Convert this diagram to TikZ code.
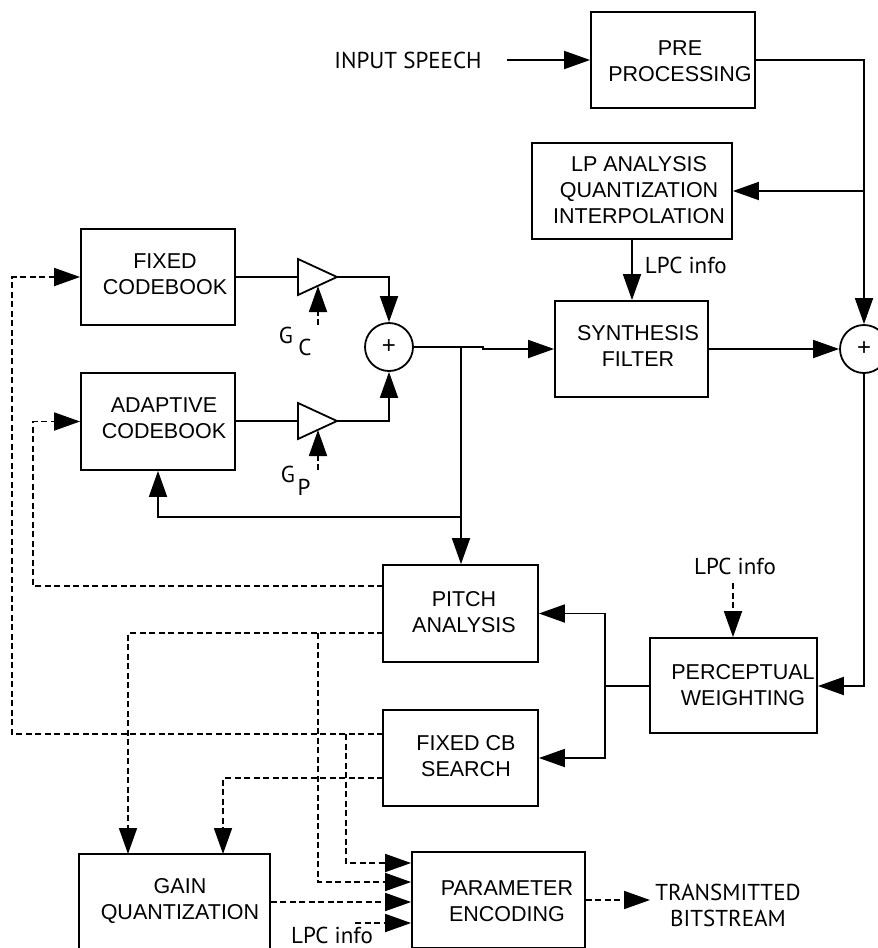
\documentclass[tikz,border=0pt]{standalone}
\usepackage{fontspec}
\setmainfont{Liberation Sans}
\newfontfamily\lblfont{PT Sans}
\usetikzlibrary{arrows.meta}
\begin{document}
\begin{tikzpicture}[x=1pt,y=-1pt,
  line width=1.8pt,
  box/.style={draw, rectangle, inner sep=0pt},
  boxtxt/.style={align=center, inner sep=0pt, font=\fontsize{21.5}{26}\selectfont},
  lbl/.style={inner sep=0pt, align=center, font=\lblfont\fontsize{23}{26}\selectfont},
  arr/.style={-{Triangle[length=26pt,width=18pt]}},
  dsh/.style={dash pattern=on 6pt off 3.5pt},
  summer/.style={draw, circle, minimum size=48pt, inner sep=0pt, font=\fontsize{24}{24}\selectfont}
]
\useasboundingbox (0,0) rectangle (878,948);
\clip (0,0) rectangle (878,948);

% ---------- blocks ----------
\node[box, minimum width=164pt, minimum height=96pt] (pre) at (673,60) {};
\node[boxtxt] (preT) at (680,61) {PRE\\PROCESSING};

\node[box, minimum width=200pt, minimum height=96pt] (lp) at (632,191) {};
\node[boxtxt] (lpT) at (639,190) {LP ANALYSIS\\QUANTIZATION\\INTERPOLATION};

\node[box, minimum width=153pt, minimum height=96pt] (syn) at (631.5,349) {};
\node[boxtxt] (synT) at (638,346) {SYNTHESIS\\FILTER};

\node[box, minimum width=154pt, minimum height=96pt] (fcb) at (158,277) {};
\node[boxtxt] (fcbT) at (165,274.5) {FIXED\\CODEBOOK};

\node[box, minimum width=154pt, minimum height=97pt] (acb) at (158,421.5) {};
\node[boxtxt] (acbT) at (164,418) {ADAPTIVE\\CODEBOOK};

\node[box, minimum width=155pt, minimum height=97pt] (pitch) at (460.5,613.5) {};
\node[boxtxt] (pitchT) at (464,612) {PITCH\\ANALYSIS};

\node[box, minimum width=155pt, minimum height=96pt] (fcbs) at (460.5,758) {};
\node[boxtxt] (fcbsT) at (466,756) {FIXED CB\\SEARCH};

\node[box, minimum width=167pt, minimum height=95pt] (pw) at (733.5,685.5) {};
\node[boxtxt] (pwT) at (743,685) {PERCEPTUAL\\WEIGHTING};

\node[box, minimum width=173pt, minimum height=96pt] (pe) at (498.5,900) {};
\node[boxtxt] (peT) at (507,901) {PARAMETER\\ENCODING};

\node[box, minimum width=191pt, minimum height=96pt] (gq) at (174.5,902) {};
\node[boxtxt] (gqT) at (180,901) {GAIN\\QUANTIZATION};

% ---------- summing junctions ----------
\node[summer] (sum1) at (389,347) {+};
\node[summer] (sum2) at (864,349) {+};

% ---------- gain stages ----------
\coordinate (g1in) at (298,277);
\coordinate (g1out) at (337,277);
\coordinate (g2in) at (298,421);
\coordinate (g2out) at (337,421);
\draw (298,259) -- (g1out) -- (298,295) -- cycle;
\draw (298,403) -- (g2out) -- (298,439) -- cycle;

\node[lbl] (gcG) at (286,335) {G};
\node[lbl] (gcC) at (305,347) {C};
\node[lbl] (gpG) at (288,474) {G};
\node[lbl] (gpP) at (304,487) {P};

\coordinate (gcSrc) at (318,325);
\coordinate (gcTip) at (318,286);
\coordinate (gpSrc) at (318,470);
\coordinate (gpTip) at (318,430);
\draw[arr, dsh] (gcSrc) -- (gcTip);
\draw[arr, dsh] (gpSrc) -- (gpTip);

% ---------- input side ----------
\node[lbl] (inp) at (408,60) {INPUT SPEECH};
\coordinate (inpEnd) at (507,60);
\draw[arr] (inpEnd) -- (pre.west);

\coordinate (rTop) at (864,60);
\coordinate (rLp) at (864,191);
\draw[arr] (pre.east) -- (rTop) -- (sum2.north);
\draw[arr] (rLp) -- (lp.east);

\draw[arr] (lp.south) -- (lp.south |- syn.north);
\node[lbl, anchor=west] (lpcA) at (644,265) {LPC info};

\draw[arr] (syn.east) -- (sum2.west);

\coordinate (rBot) at (864,686);
\draw[arr] (sum2.south) -- (rBot) -- (pw.east |- rBot);

% ---------- excitation path ----------
\draw (fcb.east |- g1in) -- (g1in);
\draw (acb.east |- g2in) -- (g2in);
\draw[arr] (g1out) -| (sum1.north);
\draw[arr] (g2out) -| (sum1.south);

\coordinate (jog1) at (483,347);
\coordinate (jog2) at (483,349);
\draw[arr] (sum1.east) -- (jog1) -- (jog2) -- (syn.west);

\coordinate (exc) at (461,347);
\coordinate (excFb) at (461,517);
\draw[arr] (exc) -- (exc |- pitch.north);
\draw[arr] (excFb) -| (acb.south);

% ---------- weighted error to searches ----------
\coordinate (pwJ) at (605,686);
\draw (pw.west |- pwJ) -- (pwJ);
\draw[arr] (pwJ) |- (pitch.east);
\draw[arr] (pwJ) |- (fcbs.east);

\node[lbl] (lpcB) at (735,566) {LPC info};
\coordinate (lpcBsrc) at (733,583);
\draw[arr, dsh] (lpcBsrc) -- (lpcBsrc |- pw.north);

% ---------- parameter (dashed) paths ----------
\coordinate (pa1) at (383,586);
\coordinate (pa2) at (383,633);
\coordinate (fs1) at (383,734);
\coordinate (fs2) at (383,778);

\draw[arr, dsh] (pa1) -- (33,586) |- (acb.west);
\draw[arr, dsh] (fs1) -- (12,734) |- (fcb.west);

\draw[arr, dsh] (pa2) -- (128,633) -- (128,854);
\draw[arr, dsh] (fs2) -- (223,778) -- (223,854);

\coordinate (pbr) at (318,633);
\coordinate (fbr) at (346,734);
\draw[arr, dsh] (pbr) -- (318,882) -- (pe.west |- 0,882);
\draw[arr, dsh] (fbr) -- (346,863) -- (pe.west |- 0,863);
\draw[arr, dsh] (gq.east) -- (pe.west |- gq.east);

\coordinate (lpcCsrc) at (355,923);
\draw[arr, dsh] (lpcCsrc) -- (pe.west |- lpcCsrc);
\node[lbl] (lpcC) at (332,935) {LPC info};

\coordinate (bsEnd) at (650,900);
\draw[arr, dsh] (pe.east) -- (bsEnd);
\node[lbl] (bs) at (728,905) {TRANSMITTED\\BITSTREAM};

\end{tikzpicture}
\end{document}
